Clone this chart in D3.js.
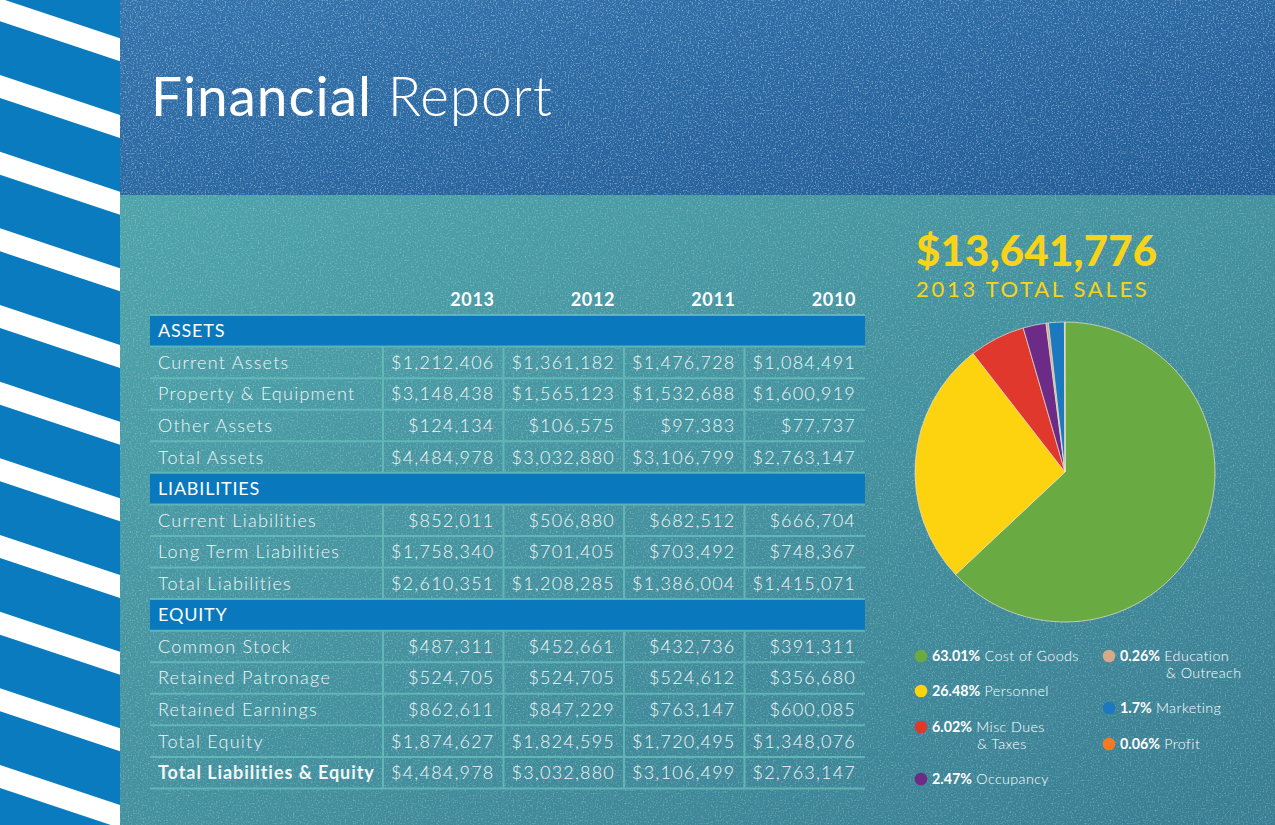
<!DOCTYPE html>
<html><head><meta charset="utf-8">
<script src="https://cdn.jsdelivr.net/npm/d3@7"></script>
<style>html,body{margin:0;padding:0;background:#3e8a9a;}svg{display:block;}</style>
</head><body>
<script>
// ---------- DATA ----------
const years = ["2013", "2012", "2011", "2010"];
const sectionNames = ["ASSETS", "LIABILITIES", "EQUITY"];
const assetLabels = ["Current Assets", "Property & Equipment", "Other Assets", "Total Assets"];
const assetValues = [
  [1212406, 1361182, 1476728, 1084491],
  [3148438, 1565123, 1532688, 1600919],
  [124134, 106575, 97383, 77737],
  [4484978, 3032880, 3106799, 2763147]
];
const liabilityLabels = ["Current Liabilities", "Long Term Liabilities", "Total Liabilities"];
const liabilityValues = [
  [852011, 506880, 682512, 666704],
  [1758340, 701405, 703492, 748367],
  [2610351, 1208285, 1386004, 1415071]
];
const equityLabels = ["Common Stock", "Retained Patronage", "Retained Earnings", "Total Equity", "Total Liabilities & Equity"];
const equityValues = [
  [487311, 452661, 432736, 391311],
  [524705, 524705, 524612, 356680],
  [862611, 847229, 763147, 600085],
  [1874627, 1824595, 1720495, 1348076],
  [4484978, 3032880, 3106499, 2763147]
];
const totalSales = 13641776;
const salesCaption = "2013 TOTAL SALES";
const pieCategories = ["Cost of Goods", "Personnel", "Misc Dues|& Taxes", "Occupancy", "Education|& Outreach", "Marketing", "Profit"];
const pieShares = [63.01, 26.48, 6.02, 2.47, 0.26, 1.7, 0.06];
const pieShareText = ["63.01%", "26.48%", "6.02%", "2.47%", "0.26%", "1.7%", "0.06%"];
const pieColors = ["#6aaa42", "#fdd20e", "#e0382d", "#6d2b88", "#d6a98a", "#1c78bf", "#f47a21"];

// ---------- SETUP ----------
const W = 1275, H = 825;
const svg = d3.select("body").append("svg").attr("width", W).attr("height", H);
const defs = svg.append("defs");

const gTop = defs.append("linearGradient").attr("id", "gTop").attr("x1", 0).attr("y1", 0).attr("x2", 1).attr("y2", 1);
gTop.append("stop").attr("offset", "0%").attr("stop-color", "#3474ad");
gTop.append("stop").attr("offset", "100%").attr("stop-color", "#225d97");
const gLow = defs.append("linearGradient").attr("id", "gLow").attr("x1", 0).attr("y1", 0).attr("x2", 1).attr("y2", 1);
gLow.append("stop").attr("offset", "0%").attr("stop-color", "#4ea4aa");
gLow.append("stop").attr("offset", "100%").attr("stop-color", "#397e93");

const noise = defs.append("filter").attr("id", "noise").attr("x", 0).attr("y", 0).attr("width", "100%").attr("height", "100%");
noise.append("feTurbulence").attr("type", "fractalNoise").attr("baseFrequency", 0.6).attr("numOctaves", 2).attr("seed", 4);
noise.append("feColorMatrix").attr("type", "matrix")
  .attr("values", "0 0 0 0 1  0 0 0 0 1  0 0 0 0 1  0 0 0 2.4 -1.2");

defs.append("clipPath").attr("id", "stripeClip").append("rect").attr("x", 0).attr("y", 0).attr("width", 120).attr("height", H);

// backgrounds
svg.append("rect").attr("x", 120).attr("y", 0).attr("width", W - 120).attr("height", 195).attr("fill", "url(#gTop)");
svg.append("rect").attr("x", 120).attr("y", 195).attr("width", W - 120).attr("height", H - 195).attr("fill", "url(#gLow)");
svg.append("rect").attr("x", 120).attr("y", 0).attr("width", W - 120).attr("height", 195).attr("filter", "url(#noise)").attr("opacity", 0.5);
svg.append("rect").attr("x", 120).attr("y", 195).attr("width", W - 120).attr("height", H - 195).attr("filter", "url(#noise)").attr("opacity", 0.3);

// stripe panel
svg.append("rect").attr("x", 0).attr("y", 0).attr("width", 120).attr("height", H).attr("fill", "#0a7bbf");
const stripeG = svg.append("g").attr("clip-path", "url(#stripeClip)");
stripeG.selectAll("path").data(d3.range(-1, 12)).join("path")
  .attr("d", k => { const y = -1.67 + 76.67 * k; return `M0,${y}L120,${y + 40}L120,${y + 63}L0,${y + 23}Z`; })
  .attr("fill", "#ffffff");

// title
const title = svg.append("text").attr("x", 151).attr("y", 116).attr("fill", "#ffffff")
  .attr("font-family", "Lato").attr("font-size", 55).attr("letter-spacing", 0.9);
title.append("tspan").attr("font-weight", 400).text("Financial");
title.append("tspan").attr("font-weight", 300).text(" Report");

// ---------- TABLE ----------
const rows = [];
const groups = [[sectionNames[0], assetLabels, assetValues], [sectionNames[1], liabilityLabels, liabilityValues], [sectionNames[2], equityLabels, equityValues]];
groups.forEach(([name, labels, vals]) => {
  rows.push({ type: "section", label: name });
  labels.forEach((l, i) => rows.push({ type: "row", label: l, values: vals[i], bold: l === "Total Liabilities & Equity" }));
});

const tableLeft = 150, tableRight = 865, labelColRight = 383;
const y = d3.scaleBand().domain(d3.range(rows.length)).range([315, 788.5]);
const x = d3.scaleBand().domain(years).range([labelColRight, tableRight]);
const fmt = d3.format("$,");
const lineColor = "#66bcbb";
const textColor = "#f1f6f6";

const table = svg.append("g").attr("font-family", "Lato");

// section bars
table.selectAll("rect.sec").data(rows.map((r, i) => ({ ...r, i })).filter(r => r.type === "section")).join("rect")
  .attr("class", "sec").attr("x", tableLeft).attr("y", d => y(d.i)).attr("width", tableRight - tableLeft).attr("height", y.bandwidth())
  .attr("fill", "#0a78bc");

// horizontal lines
table.selectAll("line.h").data(d3.range(rows.length + 1)).join("line")
  .attr("class", "h").attr("x1", tableLeft).attr("x2", tableRight)
  .attr("y1", i => i < rows.length ? y(i) : y(rows.length - 1) + y.bandwidth())
  .attr("y2", i => i < rows.length ? y(i) : y(rows.length - 1) + y.bandwidth())
  .attr("stroke", lineColor).attr("stroke-width", 2).attr("opacity", 0.85);

// vertical lines in data rows
const dataRows = rows.map((r, i) => ({ ...r, i })).filter(r => r.type === "row");
const vx = years.map(yr => x(yr));
dataRows.forEach(r => {
  table.selectAll(null).data(vx).join("line")
    .attr("x1", d => d).attr("x2", d => d)
    .attr("y1", y(r.i) + 1).attr("y2", y(r.i) + y.bandwidth() - 1)
    .attr("stroke", lineColor).attr("stroke-width", 2).attr("opacity", 0.85);
});

// section labels
table.selectAll("text.sec").data(rows.map((r, i) => ({ ...r, i })).filter(r => r.type === "section")).join("text")
  .attr("class", "sec").attr("x", tableLeft + 8).attr("y", d => y(d.i) + y.bandwidth() / 2).attr("dy", "0.36em")
  .attr("fill", "#ffffff").attr("font-size", 18).attr("font-weight", 400).attr("letter-spacing", 0.8)
  .text(d => d.label);

// row labels
table.selectAll("text.lab").data(dataRows).join("text")
  .attr("class", "lab").attr("x", tableLeft + 8).attr("y", d => y(d.i) + y.bandwidth() / 2).attr("dy", "0.36em")
  .attr("fill", textColor).attr("font-size", 18).attr("font-weight", d => d.bold ? 700 : 300)
  .attr("letter-spacing", d => d.bold ? 0.95 : 1.25)
  .text(d => d.label);

// values
dataRows.forEach(r => {
  table.selectAll(null).data(r.values.map((v, j) => ({ v, yr: years[j] }))).join("text")
    .attr("x", d => x(d.yr) + x.bandwidth() - 9).attr("y", y(r.i) + y.bandwidth() / 2).attr("dy", "0.36em")
    .attr("text-anchor", "end").attr("fill", textColor).attr("font-size", 18).attr("font-weight", 300)
    .attr("letter-spacing", 1.2)
    .text(d => fmt(d.v));
});

// year headers
table.selectAll("text.yr").data(years).join("text")
  .attr("class", "yr").attr("x", d => x(d) + x.bandwidth() - 9).attr("y", 306)
  .attr("text-anchor", "end").attr("fill", "#ffffff").attr("font-size", 18).attr("font-weight", 700).attr("letter-spacing", 0.6)
  .text(d => d);

// ---------- SALES + PIE ----------
svg.append("text").attr("x", 916).attr("y", 265.5).attr("fill", "#f7d417").attr("font-family", "Lato")
  .attr("font-weight", 900).attr("font-size", 42).attr("letter-spacing", 0.2)
  .text(fmt(totalSales));
svg.append("text").attr("x", 916).attr("y", 297).attr("fill", "#f7d417").attr("font-family", "Lato")
  .attr("font-weight", 400).attr("font-size", 22).attr("letter-spacing", 2.7)
  .text(salesCaption);

const cx = 1065, cy = 472, R = 150;
const pie = d3.pie().sort(null).value(d => d)(pieShares);
const arc = d3.arc().innerRadius(0).outerRadius(R);
const color = d3.scaleOrdinal().domain(pieCategories).range(pieColors);
svg.append("g").attr("transform", `translate(${cx},${cy})`)
  .selectAll("path").data(pie).join("path")
  .attr("d", arc).attr("fill", (d, i) => color(pieCategories[i]))
  .attr("stroke", "#e9e4cf").attr("stroke-width", 0.7);

// legend
const legendPos = [[921, 656], [921, 691], [921, 727], [921, 779], [1109, 656], [1109, 708], [1109, 744]];
const contIndent = [0, 0, 45, 0, 46, 0, 0];
const leg = svg.append("g").attr("font-family", "Lato").attr("font-size", 14.3).attr("fill", "#ffffff");
pieCategories.forEach((c, i) => {
  const [lx, ly] = legendPos[i];
  leg.append("circle").attr("cx", lx).attr("cy", ly).attr("r", 6.3).attr("fill", color(c));
  const parts = c.split("|");
  const t = leg.append("text").attr("x", lx + 11).attr("y", ly).attr("dy", "0.36em");
  t.append("tspan").attr("font-weight", 700).text(pieShareText[i]);
  t.append("tspan").attr("font-weight", 300).attr("letter-spacing", 0.4).text(" " + parts[0]);
  if (parts[1]) {
    leg.append("text").attr("x", lx + 11 + contIndent[i]).attr("y", ly + 17).attr("dy", "0.36em")
      .attr("font-weight", 300).attr("letter-spacing", 0.4).text(parts[1]);
  }
});
</script>
</body></html>
